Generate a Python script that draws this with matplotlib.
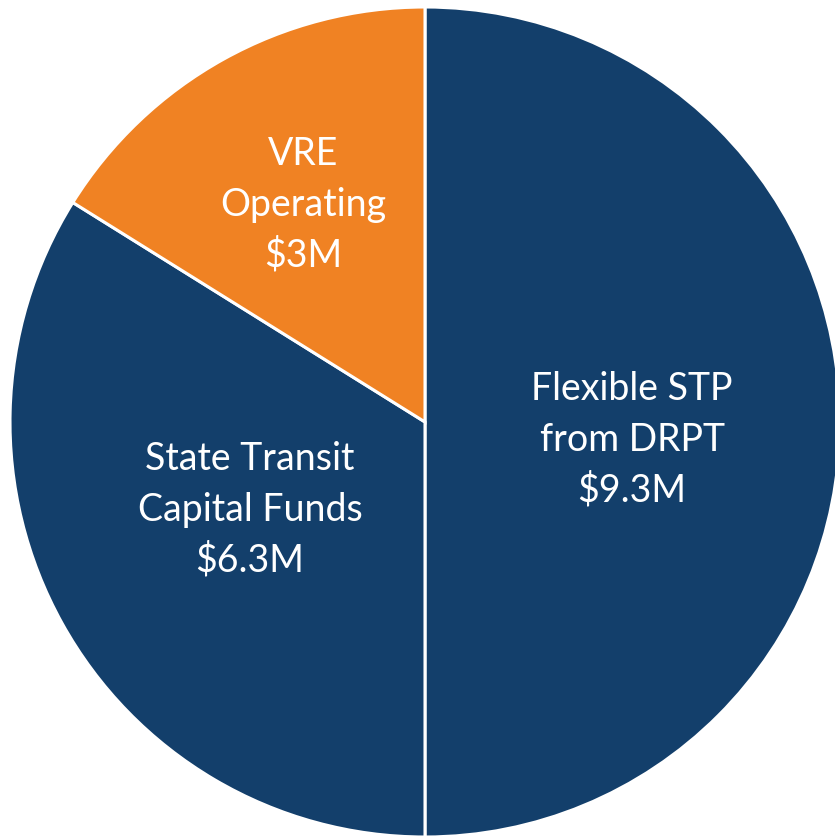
import matplotlib.pyplot as plt

labels = ["Flexible STP\nfrom DRPT\n$9.3M", "State Transit\nCapital Funds\n$6.3M", "VRE\nOperating\n$3M"]
values = [9.3, 6.3, 3.0]
colors = ["#133F6B", "#133F6B", "#F08223"]
label_pos = [(632, 440), (250, 510), (303, 205)]

W, H = 835, 839
cx, cy, r = 425, 422, 415

fig = plt.figure(figsize=(W / 100, H / 100), dpi=100)
ax = fig.add_axes([0, 0, 1, 1])
ax.pie(values, colors=colors, startangle=90, counterclock=False, radius=1,
       wedgeprops=dict(edgecolor="white", linewidth=2.2))
ax.set_xlim(-cx / r, (W - cx) / r)
ax.set_ylim(-(H - cy) / r, cy / r)
ax.set_aspect("auto")
ax.axis("off")

for lab, (px, py) in zip(labels, label_pos):
    ax.text((px - cx) / r, (cy - py) / r, lab, ha="center", va="center",
            color="white", fontsize=27, family=["Lato", "DejaVu Sans"], linespacing=1.5)

fig.savefig("out.png", dpi=100)
